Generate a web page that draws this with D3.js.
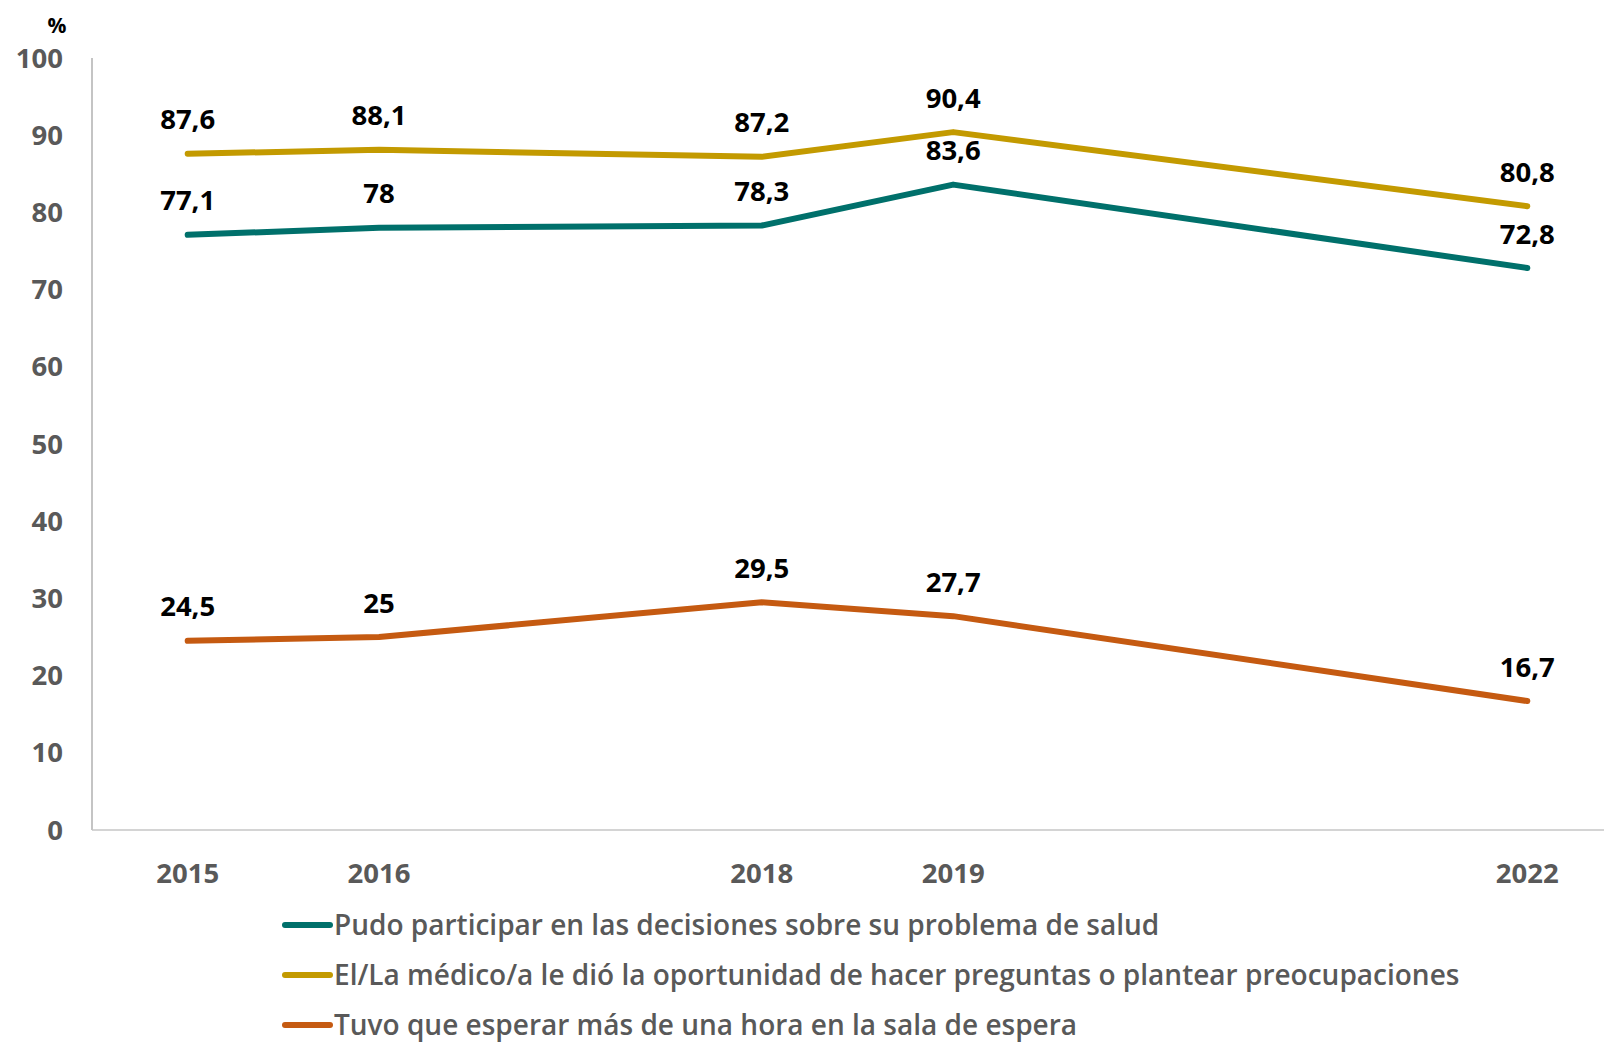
<!DOCTYPE html>
<html lang="es">
<head>
  <meta charset="utf-8">
  <title>Experiencia en la consulta</title>
  <script src="https://d3js.org/d3.v7.min.js"></script>
  <style>
    html, body { margin: 0; padding: 0; background: #fff; }
    svg { display: block; font-family: "Open Sans", "Liberation Sans", sans-serif; }
  </style>
</head>
<body>
  <svg id="chart" width="1604" height="1044"></svg>
  <script>
    const years = [2015, 2016, 2018, 2019, 2022];
    const yTicks = [0, 10, 20, 30, 40, 50, 60, 70, 80, 90, 100];

    const seriesNames = [
      "Pudo participar en las decisiones sobre su problema de salud",
      "El/La médico/a le dió la oportunidad de hacer preguntas o plantear preocupaciones",
      "Tuvo que esperar más de una hora en la sala de espera"
    ];
    const participar = [77.1, 78, 78.3, 83.6, 72.8];
    const preguntas = [87.6, 88.1, 87.2, 90.4, 80.8];
    const esperar = [24.5, 25, 29.5, 27.7, 16.7];
    const colors = ["#00706B", "#C39A00", "#C55A11"];

    const series = [participar, preguntas, esperar].map((vals, i) => ({
      name: seriesNames[i],
      color: colors[i],
      points: vals.map((v, j) => ({ year: years[j], value: v }))
    }));

    const svg = d3.select("#chart");
    const plotLeft = 92, plotBottom = 830, plotTop = 58;

    const x = d3.scaleLinear().domain([2014.5, 2022.5]).range([plotLeft, 1623]);
    const y = d3.scaleLinear().domain([0, 100]).range([plotBottom, plotTop]);

    // axes lines
    svg.append("line")
      .attr("x1", plotLeft).attr("x2", 1604)
      .attr("y1", plotBottom).attr("y2", plotBottom)
      .attr("stroke", "#d4d4d4").attr("stroke-width", 2);
    svg.append("line")
      .attr("x1", plotLeft).attr("x2", plotLeft)
      .attr("y1", plotTop).attr("y2", plotBottom)
      .attr("stroke", "#c4c4c4").attr("stroke-width", 2);

    // y tick labels
    svg.append("g").selectAll("text")
      .data(yTicks)
      .join("text")
      .attr("x", 63)
      .attr("y", d => y(d))
      .attr("dy", "0.35em")
      .attr("text-anchor", "end")
      .attr("font-size", 27.5)
      .attr("font-weight", 700)
      .attr("fill", "#595959")
      .text(d => d);

    svg.append("text")
      .attr("x", 57).attr("y", 26).attr("dy", "0.35em")
      .attr("text-anchor", "middle")
      .attr("font-size", 21).attr("font-weight", 700)
      .attr("fill", "#000")
      .text("%");

    // x tick labels
    svg.append("g").selectAll("text")
      .data(years)
      .join("text")
      .attr("x", d => x(d))
      .attr("y", 873)
      .attr("dy", "0.35em")
      .attr("text-anchor", "middle")
      .attr("font-size", 27.5)
      .attr("font-weight", 700)
      .attr("fill", "#595959")
      .text(d => d);

    const line = d3.line().x(d => x(d.year)).y(d => y(d.value));
    const fmt = v => String(v).replace(".", ",");

    series.forEach(s => {
      svg.append("path")
        .datum(s.points)
        .attr("d", line)
        .attr("fill", "none")
        .attr("stroke", s.color)
        .attr("stroke-width", 6)
        .attr("stroke-linecap", "round")
        .attr("stroke-linejoin", "round");

      svg.append("g").selectAll("text")
        .data(s.points)
        .join("text")
        .attr("x", d => x(d.year))
        .attr("y", d => y(d.value) - 34)
        .attr("dy", "0.35em")
        .attr("text-anchor", "middle")
        .attr("font-size", 27.5)
        .attr("font-weight", 700)
        .attr("fill", "#000")
        .text(d => fmt(d.value));
    });

    // legend
    const legend = svg.append("g").selectAll("g")
      .data(series)
      .join("g")
      .attr("transform", (d, i) => `translate(0, ${925 + i * 50})`);
    legend.append("line")
      .attr("x1", 285).attr("x2", 330)
      .attr("stroke", d => d.color)
      .attr("stroke-width", 6)
      .attr("stroke-linecap", "round");
    legend.append("text")
      .attr("x", 334)
      .attr("dy", "0.35em")
      .attr("font-size", 28)
      .attr("font-weight", 600)
      .attr("fill", "#595959")
      .text(d => d.name);
  </script>
</body>
</html>
